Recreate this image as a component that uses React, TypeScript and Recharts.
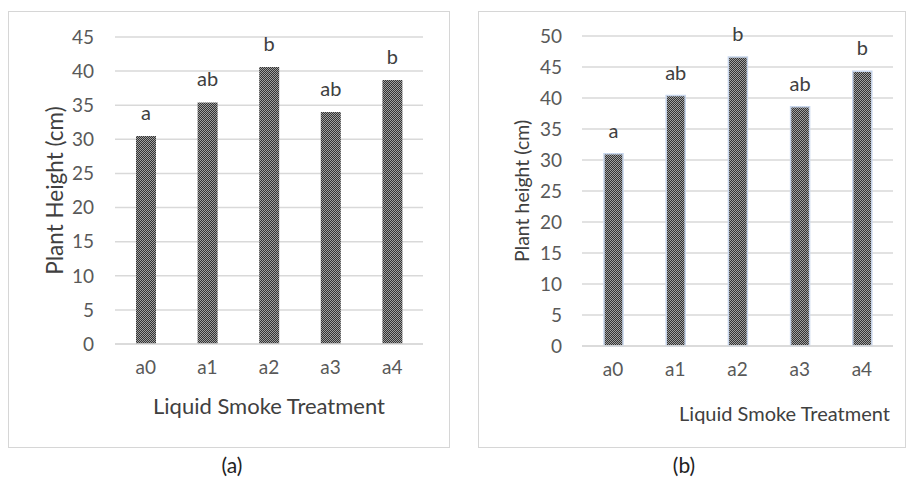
import { BarChart, Bar, XAxis, YAxis, CartesianGrid, LabelList, Label } from 'recharts';

const treatments = ['a0', 'a1', 'a2', 'a3', 'a4'];
const heightA = [30.5, 35.4, 40.6, 34.0, 38.7];
const heightB = [31.0, 40.4, 46.6, 38.6, 44.3];
const groupsA = ['a', 'ab', 'b', 'ab', 'b'];
const groupsB = ['a', 'ab', 'b', 'ab', 'b'];
const ticksA = [0, 5, 10, 15, 20, 25, 30, 35, 40, 45];
const ticksB = [0, 5, 10, 15, 20, 25, 30, 35, 40, 45, 50];

const FONT = 'Lato, "Open Sans", sans-serif';
const GRID = '#d9d9d9';

const dataA = treatments.map((t, i) => ({ name: t, value: heightA[i], sig: groupsA[i] }));
const dataB = treatments.map((t, i) => ({ name: t, value: heightB[i], sig: groupsB[i] }));

function Checker({ id }: { id: string }) {
  return (
    <defs>
      <pattern id={id} width={2} height={2} patternUnits="userSpaceOnUse">
        <rect x={0} y={0} width={2} height={2} fill="#a0a0a0" />
        <rect x={0} y={0} width={1} height={1} fill="#333333" />
        <rect x={1} y={1} width={1} height={1} fill="#333333" />
      </pattern>
    </defs>
  );
}

const panel = (left: number, width: number) => ({
  position: 'absolute' as const,
  left,
  top: 11,
  width,
  height: 437,
  border: '1px solid #d6d6d6',
  boxSizing: 'border-box' as const,
  background: '#fff',
});

export default function App() {
  return (
    <div style={{ position: 'absolute', left: 0, top: 0, width: 908, height: 481, background: '#fff', fontFamily: FONT }}>
      <div style={panel(8, 442)}>
        <BarChart width={440} height={435} data={dataA} margin={{ top: 25, right: 26, left: 0, bottom: 23 }}>
          <Checker id="chkA" />
          <CartesianGrid vertical={false} stroke={GRID} strokeWidth={1.5} />
          <XAxis dataKey="name" height={80} axisLine={{ stroke: GRID, strokeWidth: 1.5 }} tickLine={false}
            tick={{ fill: '#595959', fontSize: 19, fontFamily: FONT }} tickMargin={11}>
            <Label value="Liquid Smoke Treatment" position="center" dy={22} fill="#404040" fontSize={22} fontFamily={FONT} />
          </XAxis>
          <YAxis width={106} domain={[0, 45]} ticks={ticksA} interval={0} axisLine={false} tickLine={false}
            tick={{ fill: '#595959', fontSize: 19, fontFamily: FONT }} tickMargin={15}>
            <Label value="Plant Height (cm)" angle={-90} position="center" dx={-7} fill="#404040" fontSize={22.5} fontFamily={FONT} />
          </YAxis>
          <Bar dataKey="value" fill="url(#chkA)" barSize={20} isAnimationActive={false}>
            <LabelList dataKey="sig" position="top" offset={16} fill="#404040" fontSize={20} fontFamily={FONT} />
          </Bar>
        </BarChart>
      </div>

      <div style={panel(478, 428)}>
        <BarChart width={426} height={435} data={dataB} margin={{ top: 24, right: 12, left: 0, bottom: 21 }}>
          <Checker id="chkB" />
          <CartesianGrid vertical={false} stroke={GRID} strokeWidth={1.5} />
          <XAxis dataKey="name" height={80} axisLine={{ stroke: GRID, strokeWidth: 1.5 }} tickLine={false}
            tick={{ fill: '#595959', fontSize: 19, fontFamily: FONT }} tickMargin={11}>
            <Label value="Liquid Smoke Treatment" position="center" dx={47} dy={28} fill="#404040" fontSize={20} fontFamily={FONT} />
          </XAxis>
          <YAxis width={103} domain={[0, 50]} ticks={ticksB} interval={0} axisLine={false} tickLine={false}
            tick={{ fill: '#595959', fontSize: 19, fontFamily: FONT }} tickMargin={14}>
            <Label value="Plant height (cm)" angle={-90} position="center" dx={-8} fill="#404040" fontSize={19.5} fontFamily={FONT} />
          </YAxis>
          <Bar dataKey="value" fill="url(#chkB)" stroke="#c8d6ec" strokeWidth={1.5} barSize={19} isAnimationActive={false}>
            <LabelList dataKey="sig" position="top" offset={16} fill="#404040" fontSize={20} fontFamily={FONT} />
          </Bar>
        </BarChart>
      </div>

      <div style={{ position: 'absolute', left: 202, top: 452, width: 60, textAlign: 'center', fontSize: 21, color: '#222' }}>(a)</div>
      <div style={{ position: 'absolute', left: 654, top: 452, width: 60, textAlign: 'center', fontSize: 21, color: '#222' }}>(b)</div>
    </div>
  );
}
